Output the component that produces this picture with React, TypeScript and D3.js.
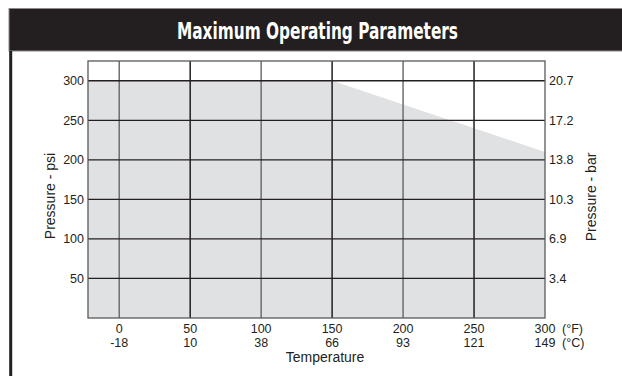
import React from "react";
import * as d3 from "d3";

const tempF = [0, 50, 100, 150, 200, 250, 300];
const tempC = ["-18", "10", "38", "66", "93", "121", "149"];
const psiTicks = [50, 100, 150, 200, 250, 300];
const barTicks = ["3.4", "6.9", "10.3", "13.8", "17.2", "20.7"];
const limitTemp = [-22, 150, 300];
const limitPsi = [300, 300, 210];

const W = 622, H = 376;
const plot = { left: 88, right: 545, top: 61, bottom: 318 };

export default function App() {
  const x = d3.scaleLinear().domain([-22, 300]).range([plot.left, plot.right]);
  const y = d3.scaleLinear().domain([0, 325]).range([plot.bottom, plot.top]);
  const pts = limitTemp.map((t, i) => ({ t, p: limitPsi[i] }));
  const area = d3.area<{ t: number; p: number }>()
    .x(d => x(d.t)).y0(y(0)).y1(d => y(d.p));
  const font = "'Liberation Sans', Arial, sans-serif";
  return (
    <svg width={W} height={H} style={{ position: "absolute", left: 0, top: 0, background: "#fff" }} fontFamily={font}>
      <rect x={0} y={0} width={W} height={H} fill="#fff" />
      <rect x={9} y={8.5} width={W - 8} height={42.5} fill="#231f20" stroke="#8a8a8a" strokeWidth={1} />
      <line x1={10.7} x2={10.7} y1={51} y2={H} stroke="#231f20" strokeWidth={3} />
      <text x={317.5} y={39} textAnchor="middle" fill="#fff" fontFamily="'DejaVu Sans Condensed', 'DejaVu Sans', sans-serif" fontWeight="bold" fontSize={23.5} textLength={281} lengthAdjust="spacingAndGlyphs">Maximum Operating Parameters</text>

      <path d={area(pts) || ""} fill="#e0e1e3" />
      {tempF.slice(0, 6).map((t, i) => (
        <line key={"v" + t} x1={x(t)} x2={x(t)} y1={plot.top} y2={plot.bottom} stroke={i % 2 === 0 ? "#6d6e70" : "#231f20"} strokeWidth={1.5} />
      ))}
      {psiTicks.map(p => (
        <line key={"h" + p} x1={plot.left} x2={plot.right} y1={y(p)} y2={y(p)} stroke="#231f20" strokeWidth={1.3} />
      ))}
      <rect x={plot.left} y={plot.top} width={plot.right - plot.left} height={plot.bottom - plot.top} fill="none" stroke="#58595b" strokeWidth={1.3} />

      {psiTicks.map(p => (
        <text key={"l" + p} x={84} y={y(p) + 4.5} textAnchor="end" fontSize={12.5} fill="#231f20">{p}</text>
      ))}
      {psiTicks.map((p, i) => (
        <text key={"r" + p} x={549} y={y(p) + 4.5} textAnchor="start" fontSize={12.5} fill="#231f20">{barTicks[i]}</text>
      ))}
      {tempF.map((t, i) => (
        <g key={"x" + t}>
          <text x={x(t)} y={333} textAnchor="middle" fontSize={12.5} fill="#231f20">{t}</text>
          <text x={x(t)} y={346.5} textAnchor="middle" fontSize={12.5} fill="#231f20">{tempC[i]}</text>
        </g>
      ))}
      <text x={562} y={333} fontSize={12.5} fill="#231f20">(°F)</text>
      <text x={562} y={346.5} fontSize={12.5} fill="#231f20">(°C)</text>
      <text x={325} y={362} textAnchor="middle" fontSize={14} fill="#231f20">Temperature</text>
      <text transform={`translate(55,196) rotate(-90)`} textAnchor="middle" fontSize={14} fill="#231f20">Pressure - psi</text>
      <text transform={`translate(596,197) rotate(-90)`} textAnchor="middle" fontSize={14} fill="#231f20">Pressure - bar</text>
    </svg>
  );
}
